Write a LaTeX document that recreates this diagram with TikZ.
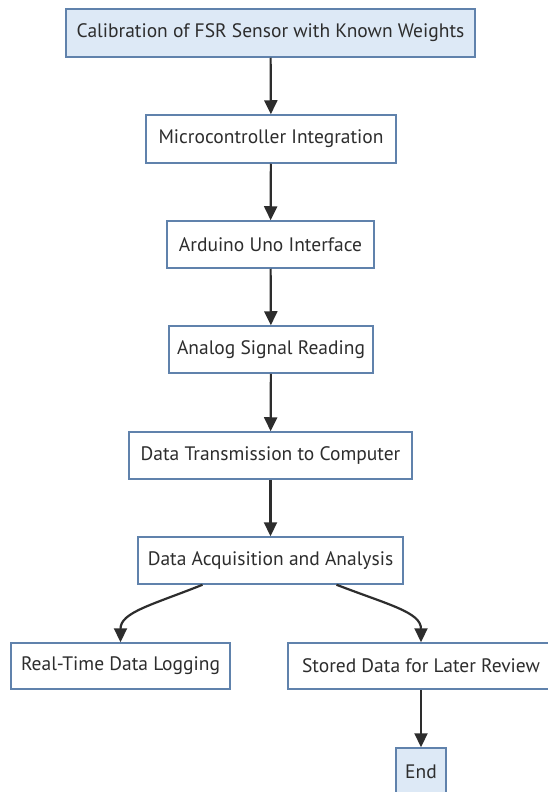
\documentclass[tikz,border=0pt]{standalone}
\usepackage{fontspec}
\setmainfont{PT Sans}
\usetikzlibrary{arrows.meta}
\definecolor{bordc}{RGB}{96,130,172}
\definecolor{fillc}{RGB}{221,233,246}
\definecolor{txtc}{RGB}{45,45,45}
\definecolor{arrc}{RGB}{45,45,45}
\begin{document}
\begin{tikzpicture}[x=1pt,y=1pt,
  box/.style={draw=bordc,line width=1.5pt,fill=white,text=txtc,inner sep=0pt,
    font=\fontsize{19.5}{22}\selectfont,anchor=center},
  hibox/.style={box,fill=fillc},
  conn/.style={draw=arrc,line width=2.2pt,-{Triangle[length=14pt,width=13pt]}}]
\useasboundingbox (0,0) rectangle (547,-792);
\fill[white] (0,0) rectangle (547,-792);
\node[hibox,minimum width=409pt,minimum height=48pt] (n1) at (270.5,-33) {Calibration of FSR Sensor with Known Weights};
\node[box,minimum width=250pt,minimum height=48pt] (n2) at (271,-139) {Microcontroller Integration};
\node[box,minimum width=207pt,minimum height=47pt] (n3) at (270.5,-244.5) {Arduino Uno Interface};
\node[box,minimum width=204pt,minimum height=47pt] (n4) at (271,-349.5) {Analog Signal Reading};
\node[box,minimum width=283pt,minimum height=47pt] (n5) at (270.5,-455.5) {Data Transmission to Computer};
\node[box,minimum width=265pt,minimum height=47pt] (n6) at (270.5,-560.5) {Data Acquisition and Analysis};
\node[box,minimum width=219pt,minimum height=46pt] (n7) at (120.5,-666) {Real-Time Data Logging};
\node[box,minimum width=266pt,minimum height=46pt] (n8) at (421,-666) {Stored Data for Later Review};
\node[hibox,minimum width=50pt,minimum height=47pt] (n9) at (421,-771.5) {End};
\draw[conn] (n1) -- (n2);
\draw[conn] (n2) -- (n3);
\draw[conn] (n3) -- (n4);
\draw[conn] (n4) -- (n5);
\draw[conn] (n5) -- (n6);
\draw[conn] ([xshift=-68pt]n6.south) .. controls +(-50,-20) and +(0,30) .. (n7.north);
\draw[conn] ([xshift=66pt]n6.south) .. controls +(52,-20) and +(0,30) .. (n8.north);
\draw[conn] (n8) -- (n9);
\end{tikzpicture}
\end{document}
